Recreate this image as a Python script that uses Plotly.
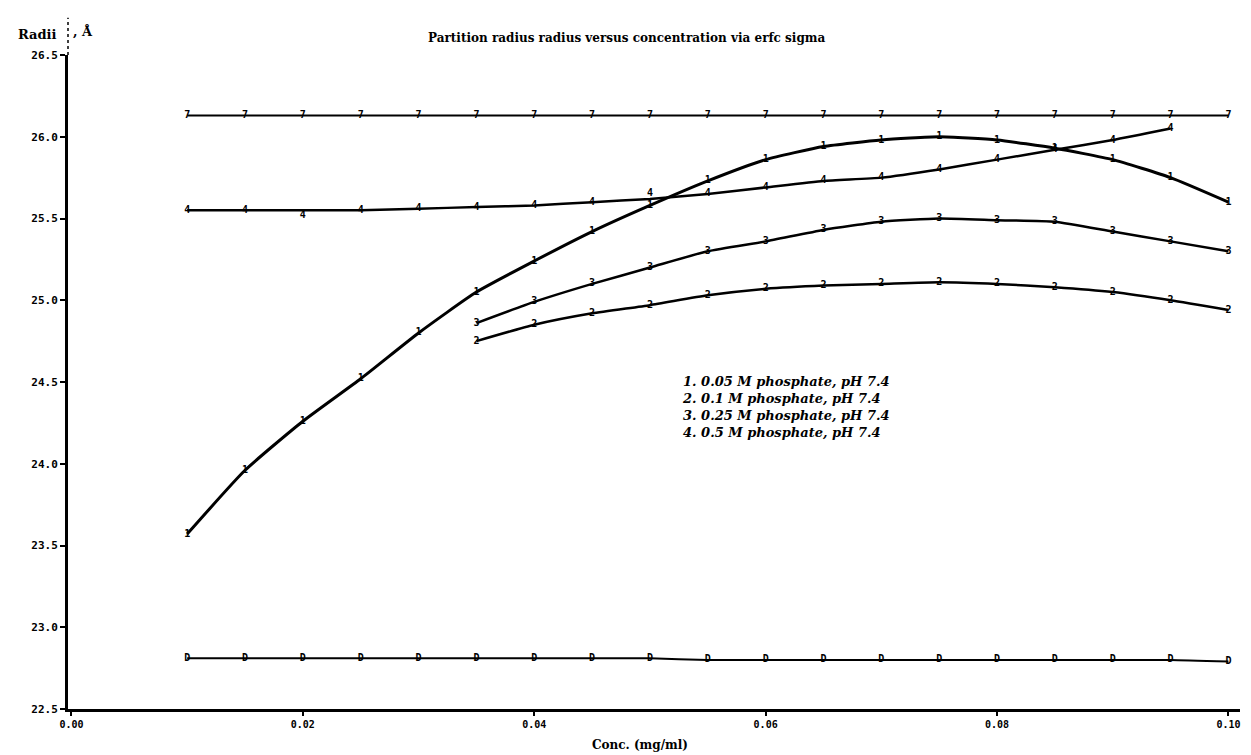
import plotly.graph_objects as go

# Concentration grid (mg/ml)
conc_full = [0.010, 0.015, 0.020, 0.025, 0.030, 0.035, 0.040, 0.045, 0.050, 0.055,
             0.060, 0.065, 0.070, 0.075, 0.080, 0.085, 0.090, 0.095, 0.100]
conc_23 = [0.035, 0.040, 0.045, 0.050, 0.055, 0.060, 0.065, 0.070, 0.075, 0.080,
           0.085, 0.090, 0.095, 0.100]
conc_4 = conc_full[:-1]

# Radii (Å)
radii_top = [26.13] * 19
radii_1 = [23.57, 23.96, 24.26, 24.52, 24.80, 25.05, 25.24, 25.42, 25.58, 25.73,
           25.86, 25.94, 25.98, 26.00, 25.98, 25.93, 25.86, 25.75, 25.60]
radii_2 = [24.75, 24.85, 24.92, 24.97, 25.03, 25.07, 25.09, 25.10, 25.11, 25.10,
           25.08, 25.05, 25.00, 24.94]
radii_3 = [24.86, 24.99, 25.10, 25.20, 25.30, 25.36, 25.43, 25.48, 25.50, 25.49,
           25.48, 25.42, 25.36, 25.30]
radii_4 = [25.55, 25.55, 25.55, 25.55, 25.56, 25.57, 25.58, 25.60, 25.62, 25.65,
           25.69, 25.73, 25.75, 25.80, 25.86, 25.92, 25.98, 26.05]
radii_bot = [22.81, 22.81, 22.81, 22.81, 22.81, 22.81, 22.81, 22.81, 22.81, 22.80,
             22.80, 22.80, 22.80, 22.80, 22.80, 22.80, 22.80, 22.80, 22.79]

x_ticks = [0.00, 0.02, 0.04, 0.06, 0.08, 0.10]
x_ticklabels = ["0.00", "0.02", "0.04", "0.06", "0.08", "0.10"]
y_ticks = [22.5, 23.0, 23.5, 24.0, 24.5, 25.0, 25.5, 26.0, 26.5]
y_ticklabels = ["22.5", "23.0", "23.5", "24.0", "24.5", "25.0", "25.5", "26.0", "26.5"]

legend_lines = ["1. 0.05 M phosphate, pH 7.4",
                "2. 0.1 M phosphate, pH 7.4",
                "3. 0.25 M phosphate, pH 7.4",
                "4. 0.5 M phosphate, pH 7.4"]

pos4 = ["middle center"] * len(conc_4)
pos4[2] = "bottom center"
pos4[8] = "top center"

series = [
    (conc_full, radii_top, "7", 2.0, "middle center"),
    (conc_full, radii_1, "1", 3.0, "middle center"),
    (conc_23, radii_2, "2", 2.5, "middle center"),
    (conc_23, radii_3, "3", 2.5, "middle center"),
    (conc_4, radii_4, "4", 2.5, pos4),
    (conc_full, radii_bot, "D", 2.0, "middle center"),
]

fig = go.Figure()
for xs, ys, label, w, tp in series:
    fig.add_trace(go.Scatter(
        x=xs, y=ys, mode="lines+text",
        text=["<b>%s</b>" % label] * len(xs), textposition=tp,
        textfont=dict(family="DejaVu Sans Mono", size=10, color="black"),
        line=dict(color="black", width=w, shape="spline", smoothing=0.5),
        showlegend=False, cliponaxis=False,
    ))

serif = "DejaVu Serif"
fig.update_layout(
    width=1251, height=755,
    margin=dict(l=68, r=11, t=55, b=46),
    paper_bgcolor="white", plot_bgcolor="white",
    xaxis=dict(range=[-0.0003, 0.101], tickvals=x_ticks,
               ticktext=["<b>%s</b>" % t for t in x_ticklabels],
               showgrid=False, zeroline=False, showline=True, linecolor="black",
               linewidth=3, ticks="outside", ticklen=4, tickwidth=2, tickcolor="black",
               tickfont=dict(family="DejaVu Sans Mono", size=10, color="black")),
    yaxis=dict(range=[22.5, 26.5], tickvals=y_ticks,
               ticktext=["<b>%s</b>" % t for t in y_ticklabels],
               showgrid=False, zeroline=False, showline=True, linecolor="black",
               linewidth=3, ticks="outside", ticklen=5, tickwidth=2, tickcolor="black",
               tickfont=dict(family="DejaVu Sans Mono", size=11, color="black")),
    font=dict(family=serif, color="black"),
)

annots = [
    dict(text="<b>Partition radius radius versus concentration via erfc sigma</b>",
         x=0.477, y=1.026, font=dict(family=serif, size=12)),
    dict(text="<b>Radii</b>", x=-0.026, y=1.031, font=dict(family=serif, size=13)),
    dict(text="<b>, Å</b>", x=0.013, y=1.036, font=dict(family=serif, size=13)),
    dict(text="<b>Conc. (mg/ml)</b>", x=0.488, y=-0.055, font=dict(family=serif, size=12)),
    dict(text="<br>".join("<b><i>%s</i></b>" % s for s in legend_lines),
         x=0.522, y=0.515, xanchor="left", yanchor="top", align="left",
         font=dict(family=serif, size=13)),
]
for a in annots:
    a.setdefault("xanchor", "center")
    a.setdefault("yanchor", "middle")
    fig.add_annotation(xref="paper", yref="paper", showarrow=False, **a)

# dashed extension of the y axis above the top tick
fig.add_shape(type="line", xref="paper", yref="paper", x0=0, x1=0, y0=1.0, y1=1.057,
              line=dict(color="black", width=1.5, dash="dot"))

fig.write_html("out.html")
